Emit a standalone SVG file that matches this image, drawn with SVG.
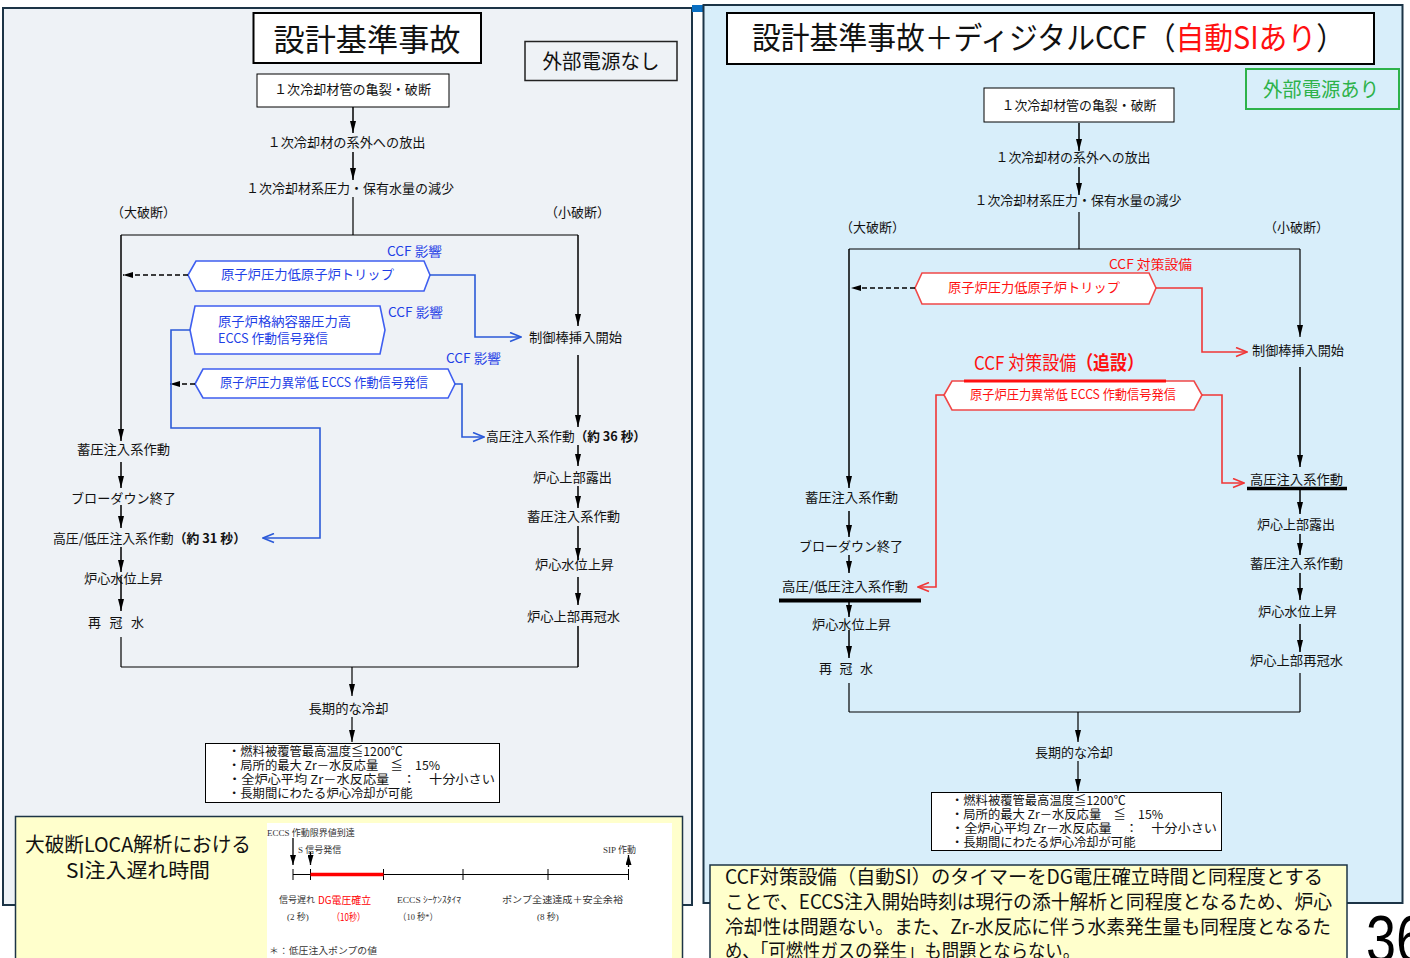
<svg xmlns="http://www.w3.org/2000/svg" width="1410" height="958" viewBox="0 0 1410 958">
<defs>
<style>
.t{font-family:"Noto Sans CJK JP","Noto Sans CJK SC",sans-serif;font-size:13px;fill:#111}
.f31{font-size:31px}
.f20{font-size:20px}
.f19{font-size:19px}
.f195{font-size:19.5px}
.f12{font-size:12.3px}
.b{fill:#1f3fe6}
.r{fill:#ff1010}
.g{fill:#2db24a}
.bold{font-weight:bold}
.ln{stroke:#000;stroke-width:1.5;fill:none}
.th{stroke:#000;stroke-width:1.2;fill:none}
.bl{stroke:#2b5ad8;stroke-width:1.6;fill:none}
.rd{stroke:#f03636;stroke-width:1.6;fill:none}
.ds{stroke:#000;stroke-width:1.3;stroke-dasharray:5 3;fill:none}
.hb{fill:#fff;stroke:#3f5ff0;stroke-width:1.6}
.hr{fill:#fff;stroke:#f04848;stroke-width:1.6}
.box{fill:#fff;stroke:#000;stroke-width:1}
.tl{font-family:"Liberation Serif","Noto Sans CJK JP",serif;font-size:9px;fill:#333}
.tlr{font-family:"Noto Sans CJK JP",sans-serif;font-size:10px;fill:#ff0000}
</style>
<marker id="ah" viewBox="0 0 12 6" refX="12" refY="3" markerWidth="12" markerHeight="6" orient="auto" markerUnits="userSpaceOnUse"><path d="M0,0 L12,3 L0,6 z" fill="#000"/></marker>
<marker id="ahs" viewBox="0 0 10 6" refX="10" refY="3" markerWidth="10" markerHeight="6" orient="auto" markerUnits="userSpaceOnUse"><path d="M0,0 L10,3 L0,6 z" fill="#000"/></marker>
<marker id="ob" viewBox="-1 -1 13 11" refX="11" refY="4.5" markerWidth="13" markerHeight="11" orient="auto" markerUnits="userSpaceOnUse"><path d="M0,0 L11,4.5 L0,9" fill="none" stroke="#2b5ad8" stroke-width="1.6"/></marker>
<marker id="or" viewBox="-1 -1 13 11" refX="11" refY="4.5" markerWidth="13" markerHeight="11" orient="auto" markerUnits="userSpaceOnUse"><path d="M0,0 L11,4.5 L0,9" fill="none" stroke="#f03636" stroke-width="1.6"/></marker>
</defs>

<!-- panels -->
<rect x="3" y="8" width="689" height="897" fill="#eef2f6" stroke="#1c3446" stroke-width="2"/>
<rect x="692" y="5" width="11" height="7" fill="#0a6fc2"/>
<rect x="703.5" y="5" width="699" height="898" fill="#d8eefa" stroke="#1c3446" stroke-width="2"/>

<!-- LEFT PANEL -->
<g id="left-title">
<rect x="253.5" y="13" width="227.5" height="50" fill="#fff" stroke="#000" stroke-width="2"/>
<text class="t f31" x="367" y="51" text-anchor="middle" textLength="187" lengthAdjust="spacingAndGlyphs">設計基準事故</text>
</g>
<g id="left-power">
<rect x="525" y="41.5" width="152" height="39" fill="none" stroke="#222" stroke-width="1.5"/>
<text class="t f20" x="601" y="69" text-anchor="middle" textLength="117" lengthAdjust="spacingAndGlyphs">外部電源なし</text>
</g>
<g id="L-n1">
<rect class="box" x="257" y="74" width="192" height="33"/>
<text class="t" x="352.5" y="94" text-anchor="middle" textLength="157" lengthAdjust="spacingAndGlyphs">１次冷却材管の亀裂・破断</text>
</g>
<g id="L-n2"><text class="t" x="346.5" y="147" text-anchor="middle" textLength="158" lengthAdjust="spacingAndGlyphs">１次冷却材の系外への放出</text></g>
<g id="L-n3"><text class="t" x="350" y="193" text-anchor="middle" textLength="208" lengthAdjust="spacingAndGlyphs">１次冷却材系圧力・保有水量の減少</text></g>
<g id="L-large"><text class="t" x="111" y="217">（大破断）</text></g>
<g id="L-small"><text class="t" x="545" y="217">（小破断）</text></g>

<g id="L-hex1">
<polygon class="hb" points="188,275 196,261 424,261 430,275 424,291 196,291"/>
<text class="t b" x="221" y="279" textLength="173" lengthAdjust="spacingAndGlyphs">原子炉圧力低原子炉トリップ</text>
<text class="t b" x="387" y="256" textLength="55" lengthAdjust="spacingAndGlyphs">CCF 影響</text>
</g>
<g id="L-hex2">
<polygon class="hb" points="190,330 195,306 380,306 385,330 380,354 195,354"/>
<text class="t b" x="218" y="326" textLength="133" lengthAdjust="spacingAndGlyphs">原子炉格納容器圧力高</text>
<text class="t b" x="218" y="343" textLength="110" lengthAdjust="spacingAndGlyphs">ECCS 作動信号発信</text>
<text class="t b" x="388" y="317" textLength="55" lengthAdjust="spacingAndGlyphs">CCF 影響</text>
</g>
<g id="L-hex3">
<polygon class="hb" points="195,384 203,369 448,369 455,384 448,398 203,398"/>
<text class="t b" x="220" y="387" textLength="208" lengthAdjust="spacingAndGlyphs">原子炉圧力異常低 ECCS 作動信号発信</text>
<text class="t b" x="446" y="363" textLength="55" lengthAdjust="spacingAndGlyphs">CCF 影響</text>
</g>

<g id="L-s1"><text class="t" x="529" y="342" textLength="93" lengthAdjust="spacingAndGlyphs">制御棒挿入開始</text></g>
<g id="L-s2"><text class="t" x="486" y="441" textLength="160" lengthAdjust="spacingAndGlyphs">高圧注入系作動<tspan class="bold">（約 36 秒）</tspan></text></g>
<g id="L-s3"><text class="t" x="533" y="482" textLength="79" lengthAdjust="spacingAndGlyphs">炉心上部露出</text></g>
<g id="L-s4"><text class="t" x="527" y="521" textLength="93" lengthAdjust="spacingAndGlyphs">蓄圧注入系作動</text></g>
<g id="L-s5"><text class="t" x="535" y="569" textLength="79" lengthAdjust="spacingAndGlyphs">炉心水位上昇</text></g>
<g id="L-s6"><text class="t" x="527" y="621" textLength="93" lengthAdjust="spacingAndGlyphs">炉心上部再冠水</text></g>

<g id="L-b1"><text class="t" x="77" y="454" textLength="93" lengthAdjust="spacingAndGlyphs">蓄圧注入系作動</text></g>
<g id="L-b2"><text class="t" x="71" y="503" textLength="105" lengthAdjust="spacingAndGlyphs">ブローダウン終了</text></g>
<g id="L-b3"><text class="t" x="53" y="543" textLength="193" lengthAdjust="spacingAndGlyphs">高圧/低圧注入系作動<tspan class="bold">（約 31 秒）</tspan></text></g>
<g id="L-b4"><text class="t" x="84" y="583" textLength="79" lengthAdjust="spacingAndGlyphs">炉心水位上昇</text></g>
<g id="L-b5"><text class="t" x="88" y="627" textLength="56" lengthAdjust="spacing">再 冠 水</text></g>

<g id="L-cool"><text class="t" x="308.5" y="713" textLength="80" lengthAdjust="spacingAndGlyphs">長期的な冷却</text></g>
<g id="L-result">
<rect class="box" x="205.5" y="743.5" width="294" height="59" stroke="#666"/>
<text class="t f12" x="228" y="756">・燃料被覆管最高温度≦1200℃</text>
<text class="t f12" x="228" y="770">・局所的最大 Zr－水反応量　≦　15%</text>
<text class="t f12" x="228" y="784" textLength="267" lengthAdjust="spacingAndGlyphs">・全炉心平均 Zr－水反応量　：　十分小さい</text>
<text class="t f12" x="228" y="798">・長期間にわたる炉心冷却が可能</text>
</g>

<!-- RIGHT PANEL -->
<g id="right-title">
<rect x="727" y="13" width="647" height="51" fill="#fff" stroke="#000" stroke-width="2"/>
<text class="t f31" x="752" y="49" textLength="593" lengthAdjust="spacingAndGlyphs">設計基準事故＋ディジタルCCF（<tspan class="r">自動SIあり</tspan>）</text>
</g>
<g id="right-power">
<rect x="1246" y="69" width="153" height="40" fill="none" stroke="#2db24a" stroke-width="2"/>
<text class="t g f20" x="1321" y="97" text-anchor="middle" textLength="116" lengthAdjust="spacingAndGlyphs">外部電源あり</text>
</g>
<g id="R-n1">
<rect class="box" x="984" y="88" width="190" height="34"/>
<text class="t" x="1079" y="110" text-anchor="middle" textLength="155" lengthAdjust="spacingAndGlyphs">１次冷却材管の亀裂・破断</text>
</g>
<g id="R-n2"><text class="t" x="1073" y="162" text-anchor="middle" textLength="155" lengthAdjust="spacingAndGlyphs">１次冷却材の系外への放出</text></g>
<g id="R-n3"><text class="t" x="1078" y="205" text-anchor="middle" textLength="207" lengthAdjust="spacingAndGlyphs">１次冷却材系圧力・保有水量の減少</text></g>
<g id="R-large"><text class="t" x="840" y="232">（大破断）</text></g>
<g id="R-small"><text class="t" x="1264" y="232">（小破断）</text></g>

<g id="R-hex1">
<polygon class="hr" points="915,288 922,273 1149,273 1156,288 1149,304 922,304"/>
<text class="t r" x="948" y="292" textLength="172" lengthAdjust="spacingAndGlyphs">原子炉圧力低原子炉トリップ</text>
<text class="t r" x="1109" y="269" textLength="83" lengthAdjust="spacingAndGlyphs">CCF 対策設備</text>
</g>
<g id="R-hex2">
<text class="t r f19" x="974" y="370" textLength="170" lengthAdjust="spacingAndGlyphs">CCF 対策設備<tspan class="bold">（追設）</tspan></text>
<polygon class="hr" points="944,395 952,381 1194,381 1202,395 1194,410 952,410"/>
<line x1="964" y1="381" x2="1166" y2="381" stroke="#ff1010" stroke-width="3"/>
<text class="t r" x="970" y="399" textLength="206" lengthAdjust="spacingAndGlyphs">原子炉圧力異常低 ECCS 作動信号発信</text>
</g>

<g id="R-s1"><text class="t" x="1252" y="355" textLength="92" lengthAdjust="spacingAndGlyphs">制御棒挿入開始</text></g>
<g id="R-s2"><text class="t" x="1250" y="484" textLength="93" lengthAdjust="spacingAndGlyphs">高圧注入系作動</text>
<line x1="1247" y1="488.5" x2="1347" y2="488.5" stroke="#000" stroke-width="3.5"/></g>
<g id="R-s3"><text class="t" x="1257" y="529" textLength="78" lengthAdjust="spacingAndGlyphs">炉心上部露出</text></g>
<g id="R-s4"><text class="t" x="1250" y="568" textLength="93" lengthAdjust="spacingAndGlyphs">蓄圧注入系作動</text></g>
<g id="R-s5"><text class="t" x="1258" y="616" textLength="79" lengthAdjust="spacingAndGlyphs">炉心水位上昇</text></g>
<g id="R-s6"><text class="t" x="1250" y="665" textLength="93" lengthAdjust="spacingAndGlyphs">炉心上部再冠水</text></g>

<g id="R-b1"><text class="t" x="805" y="502" textLength="93" lengthAdjust="spacingAndGlyphs">蓄圧注入系作動</text></g>
<g id="R-b2"><text class="t" x="799" y="551" textLength="104" lengthAdjust="spacingAndGlyphs">ブローダウン終了</text></g>
<g id="R-b3"><text class="t" x="782" y="591" textLength="126" lengthAdjust="spacingAndGlyphs">高圧/低圧注入系作動</text>
<line x1="779" y1="600.5" x2="921" y2="600.5" stroke="#000" stroke-width="4"/></g>
<g id="R-b4"><text class="t" x="812" y="629" textLength="79" lengthAdjust="spacingAndGlyphs">炉心水位上昇</text></g>
<g id="R-b5"><text class="t" x="819" y="673" textLength="54" lengthAdjust="spacing">再 冠 水</text></g>

<g id="R-cool"><text class="t" x="1035" y="757" textLength="78" lengthAdjust="spacingAndGlyphs">長期的な冷却</text></g>
<g id="R-result">
<rect class="box" x="931.5" y="792.5" width="290" height="58" stroke="#666"/>
<text class="t f12" x="951" y="805">・燃料被覆管最高温度≦1200℃</text>
<text class="t f12" x="951" y="819">・局所的最大 Zr－水反応量　≦　15%</text>
<text class="t f12" x="951" y="833" textLength="266" lengthAdjust="spacingAndGlyphs">・全炉心平均 Zr－水反応量　：　十分小さい</text>
<text class="t f12" x="951" y="847">・長期間にわたる炉心冷却が可能</text>
</g>

<!-- CONNECTORS -->
<g id="connectors">
<path class="ln" d="M353,107 V133" marker-end="url(#ah)"/>
<path class="ln" d="M353,152 V180" marker-end="url(#ah)"/>
<path class="th" d="M353,197 V235"/>
<path class="th" d="M121,235 H578"/>
<path class="ln" d="M121,235 V441" marker-end="url(#ah)"/>
<path class="ln" d="M578,235 V326" marker-end="url(#ah)"/>
<path class="ln" d="M578,355 V427" marker-end="url(#ah)"/>
<path class="ln" d="M578,445 V466" marker-end="url(#ah)"/>
<path class="ln" d="M578,486 V508" marker-end="url(#ah)"/>
<path class="ln" d="M578,526 V560" marker-end="url(#ah)"/>
<path class="ln" d="M578,577 V605" marker-end="url(#ah)"/>
<path class="ln" d="M578,626 V667"/>
<path class="th" d="M121,667 H578"/>
<path class="ln" d="M121,462 V488" marker-end="url(#ah)"/>
<path class="ln" d="M121,505 V528" marker-end="url(#ah)"/>
<path class="ln" d="M121,547 V572" marker-end="url(#ah)"/>
<path class="ln" d="M121,577 V611" marker-end="url(#ah)"/>
<path class="th" d="M121,637 V667"/>
<path class="th" d="M352,667 V696" marker-end="url(#ah)"/>
<path class="th" d="M352,717 V742" marker-end="url(#ah)"/>
<path class="ds" d="M188,275 H123" marker-end="url(#ahs)"/>
<path class="ds" d="M195,384 H170" marker-end="url(#ahs)"/>
<path class="bl" d="M430,275 H475 V337 H521" marker-end="url(#ob)"/>
<path class="bl" d="M190,330 H171 V428 H320 V538 H263" marker-end="url(#ob)"/>
<path class="bl" d="M455,384 H462 V437 H484" marker-end="url(#ob)"/>
<path class="ln" d="M1079,123 V151" marker-end="url(#ah)"/>
<path class="ln" d="M1079,167 V195" marker-end="url(#ah)"/>
<path class="th" d="M1079,212 V249"/>
<path class="th" d="M849,249 H1300"/>
<path class="ln" d="M849,249 V488" marker-end="url(#ah)"/>
<path class="th" d="M1300,249 V337" marker-end="url(#ah)"/>
<path class="ln" d="M1300,367 V467" marker-end="url(#ah)"/>
<path class="ln" d="M1300,490 V514" marker-end="url(#ah)"/>
<path class="ln" d="M1300,534 V555" marker-end="url(#ah)"/>
<path class="ln" d="M1300,573 V600" marker-end="url(#ah)"/>
<path class="ln" d="M1300,624 V652" marker-end="url(#ah)"/>
<path class="th" d="M1300,673 V712"/>
<path class="th" d="M849,712 H1300"/>
<path class="ln" d="M849,511 V537" marker-end="url(#ah)"/>
<path class="ln" d="M849,555 V573" marker-end="url(#ah)"/>
<path class="ln" d="M849,602 V617" marker-end="url(#ah)"/>
<path class="ln" d="M849,630 V658" marker-end="url(#ah)"/>
<path class="th" d="M849,683 V712"/>
<path class="th" d="M1078,712 V742" marker-end="url(#ah)"/>
<path class="th" d="M1078,761 V791" marker-end="url(#ah)"/>
<path class="ds" d="M915,288 H851" marker-end="url(#ahs)"/>
<path class="rd" d="M1156,288 H1202 V352 H1247" marker-end="url(#or)"/>
<path class="rd" d="M1202,395 H1222 V483 H1244" marker-end="url(#or)"/>
<path class="rd" d="M944,395 H936 V587 H918" marker-end="url(#or)"/>
</g>

<!-- LEFT YELLOW BOX -->
<g id="si-delay">
<rect x="15.5" y="816.5" width="667" height="150" fill="#ffffcc" stroke="#1c3446" stroke-width="1.5"/>
<text class="t f20" x="25" y="852" textLength="226" lengthAdjust="spacingAndGlyphs">大破断LOCA解析における</text>
<text class="t f20" x="66" y="878" textLength="144" lengthAdjust="spacingAndGlyphs">SI注入遅れ時間</text>
<rect x="267" y="823" width="405" height="140" fill="#fff"/>
<text class="tl" x="267" y="836">ECCS 作動限界値到達</text>
<text class="tl" x="298" y="853">S 信号発信</text>
<text class="tl" x="603" y="853">SIP 作動</text>
<path d="M293,838 V865" stroke="#000" stroke-width="1.3" marker-end="url(#ahs)"/>
<path d="M310.5,852 V865" stroke="#000" stroke-width="1.3" marker-end="url(#ahs)"/>
<path d="M628.5,867 V855" stroke="#000" stroke-width="1.3" marker-end="url(#ahs)"/>
<path d="M293,874.5 H628.5" stroke="#000" stroke-width="1"/>
<path d="M293,869 V880 M310.5,869 V880 M383.5,869 V880 M463,869 V880 M548,869 V880 M628.5,869 V880" stroke="#000" stroke-width="1"/>
<path d="M310.5,874.5 H383.5" stroke="#ff0000" stroke-width="3.5"/>
<text class="tl" x="279" y="903">信号遅れ</text>
<text class="tlr" x="318" y="904" textLength="53" lengthAdjust="spacingAndGlyphs">DG電圧確立</text>
<text class="tl" x="397" y="903" textLength="64" lengthAdjust="spacingAndGlyphs">ECCS ｼｰｹﾝｽﾀｲﾏ</text>
<text class="tl" x="502" y="903" textLength="121" lengthAdjust="spacingAndGlyphs">ポンプ全速達成＋安全余裕</text>
<text class="tl" x="287" y="920">(2 秒)</text>
<text class="tlr" x="332" y="921" textLength="33" lengthAdjust="spacingAndGlyphs">（10秒）</text>
<text class="tl" x="398" y="920" textLength="40" lengthAdjust="spacingAndGlyphs">（10 秒*）</text>
<text class="tl" x="537" y="920">(8 秒)</text>
<text class="tl" x="269" y="954" textLength="108" lengthAdjust="spacingAndGlyphs">＊：低圧注入ポンプの値</text>
</g>

<!-- RIGHT YELLOW BOX -->
<g id="conclusion">
<rect x="710" y="865" width="637" height="100" fill="#ffffcc" stroke="#1c3446" stroke-width="1.5"/>
<text class="t f195" x="725" y="884" textLength="598" lengthAdjust="spacingAndGlyphs">CCF対策設備（自動SI）のタイマーをDG電圧確立時間と同程度とする</text>
<text class="t f195" x="725" y="909" textLength="607" lengthAdjust="spacingAndGlyphs">ことで、ECCS注入開始時刻は現行の添十解析と同程度となるため、炉心</text>
<text class="t f195" x="725" y="934" textLength="606" lengthAdjust="spacingAndGlyphs">冷却性は問題ない。また、Zr-水反応に伴う水素発生量も同程度となるた</text>
<text class="t f195" x="725" y="958" textLength="355" lengthAdjust="spacingAndGlyphs">め、「可燃性ガスの発生」も問題とならない。</text>
</g>

<g id="page-number">
<text x="1366" y="962" font-family="Liberation Sans,sans-serif" font-size="66" fill="#000" textLength="60" lengthAdjust="spacingAndGlyphs">36</text>
</g>
</svg>
